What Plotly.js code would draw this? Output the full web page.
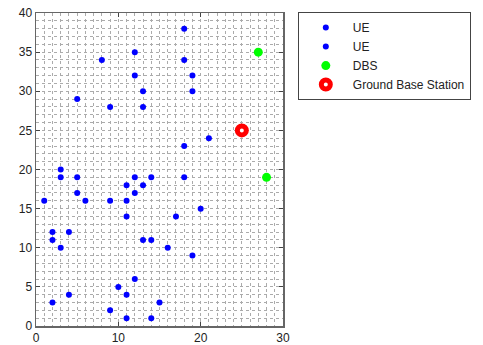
<!DOCTYPE html>
<html>
<head>
<meta charset="utf-8">
<script src="https://cdn.plot.ly/plotly-3.0.1.min.js"></script>
<style>html,body{margin:0;padding:0;background:#fff;}#chart{width:483px;height:345px;}</style>
</head>
<body>
<div id="chart"></div>
<script>
// UE group 1
const ue1X = [12, 8, 12, 13, 5, 9, 13, 18, 18, 19, 19, 3, 3, 5, 5, 1, 6, 9, 11, 11, 12, 12, 13, 14];
const ue1Y = [35, 34, 32, 30, 29, 28, 28, 38, 34, 32, 30, 20, 19, 19, 17, 16, 16, 16, 16, 18, 19, 17, 18, 19];
// UE group 2
const ue2X = [11, 21, 18, 18, 20, 17, 2, 4, 2, 3, 13, 14, 12, 10, 11, 4, 2, 9, 11, 14, 15, 16, 19];
const ue2Y = [14, 24, 23, 19, 15, 14, 12, 12, 11, 10, 11, 11, 6, 5, 4, 4, 3, 2, 1, 1, 3, 10, 9];
// Drone base stations
const dbsX = [27, 28];
const dbsY = [35, 19];
// Ground base station
const gbsX = [25];
const gbsY = [25];

const traces = [
  {x: ue1X, y: ue1Y, name: 'UE', mode: 'markers', type: 'scatter',
   marker: {color: '#0000ff', size: 6}},
  {x: ue2X, y: ue2Y, name: 'UE', mode: 'markers', type: 'scatter',
   marker: {color: '#0000ff', size: 6}},
  {x: dbsX, y: dbsY, name: 'DBS', mode: 'markers', type: 'scatter',
   marker: {color: '#00ff00', size: 9}},
  {x: gbsX, y: gbsY, name: 'Ground Base Station', mode: 'markers', type: 'scatter',
   marker: {color: '#ffffff', size: 9, symbol: 'circle', line: {color: '#ff0000', width: 5}}}
];

const axisCommon = {
  showline: true, linecolor: '#666', linewidth: 1.5, mirror: 'ticks',
  ticks: 'inside', ticklen: 4, tickcolor: '#444',
  showgrid: true, gridcolor: '#ababab', griddash: 'dot', gridwidth: 1,
  zeroline: false,
  tickfont: {family: 'Liberation Sans, Arial, sans-serif', size: 12, color: '#222'},
  minor: {dtick: 1, showgrid: true, gridcolor: '#ababab', griddash: 'dot', gridwidth: 1, ticks: ''}
};

const layout = {
  width: 483, height: 345,
  margin: {l: 36, r: 200, t: 13, b: 19},
  paper_bgcolor: '#ffffff', plot_bgcolor: '#ffffff',
  showlegend: true,
  xaxis: Object.assign({}, axisCommon, {range: [0, 30], dtick: 10, tick0: 0}),
  yaxis: Object.assign({}, axisCommon, {range: [0, 40], dtick: 5, tick0: 0}),
  legend: {
    x: 1.06, y: 1.003, xanchor: 'left', yanchor: 'top',
    bordercolor: '#444', borderwidth: 1, bgcolor: '#ffffff',
    font: {family: 'Liberation Sans, Arial, sans-serif', size: 12, color: '#222'},
    itemwidth: 44, tracegroupgap: 0
  }
};

Plotly.newPlot('chart', traces, layout, {displayModeBar: false, staticPlot: true});
</script>
</body>
</html>
